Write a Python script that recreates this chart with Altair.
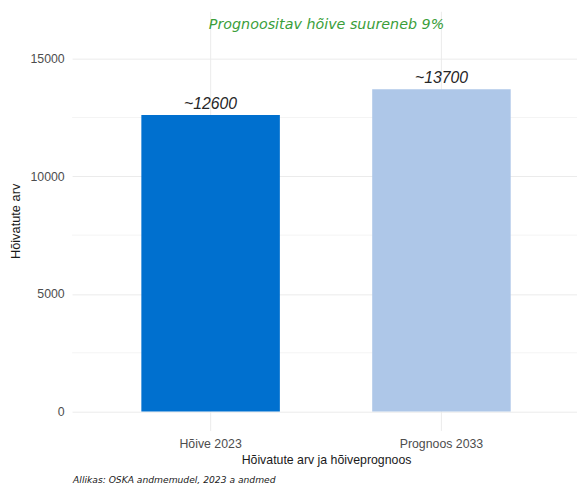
import altair as alt
import pandas as pd

categories = ["Hõive 2023", "Prognoos 2033"]
values = [12600, 13700]
value_labels = ["~12600", "~13700"]
bar_colors = ["#0070CF", "#AEC7E8"]
major_ticks = [0, 5000, 10000, 15000]
minor_ticks = [2500, 7500, 12500]
headline = "Prognoositav hõive suureneb 9%"
caption = "Allikas: OSKA andmemudel, 2023 a andmed"

df = pd.DataFrame({"kategooria": categories, "arv": values, "silt": value_labels})
minor_df = pd.DataFrame({"v": minor_ticks})

FONT = "Liberation Sans"
WIDE = "DejaVu Sans"
y_scale = alt.Scale(domain=[-800, 17011], nice=False, zero=False)
x_scale = alt.Scale(domain=categories, range=[0, 515], paddingInner=0.4, paddingOuter=0.3)

minor = alt.Chart(minor_df).mark_rule(color="#f4f4f4", strokeWidth=1).encode(
    y=alt.Y("v:Q", scale=y_scale)
)

bars = alt.Chart(df).mark_bar().encode(
    x=alt.X(
        "kategooria:N",
        scale=x_scale,
        sort=categories,
        axis=alt.Axis(
            title="Hõivatute arv ja hõiveprognoos",
            labelAngle=0,
            ticks=False,
            domain=False,
            grid=True,
            gridColor="#ebebeb",
            bandPosition=0.5,
            labelPadding=7,
            titlePadding=4,
            labelFontSize=12.5,
            titleFontSize=12.5,
            labelColor="#4d4d4d",
            titleColor="#1a1a1a",
            labelFont=FONT,
            titleFont=FONT,
            titleFontWeight="normal",
        ),
    ),
    y=alt.Y(
        "arv:Q",
        scale=y_scale,
        axis=alt.Axis(
            title="Hõivatute arv",
            values=major_ticks,
            format="d",
            ticks=False,
            domain=False,
            grid=True,
            gridColor="#ebebeb",
            labelPadding=8,
            titlePadding=8,
            labelFontSize=12.5,
            titleFontSize=13,
            labelColor="#4d4d4d",
            titleColor="#1a1a1a",
            labelFont=FONT,
            titleFont=FONT,
            titleFontWeight="normal",
        ),
    ),
    color=alt.Color("kategooria:N", scale=alt.Scale(domain=categories, range=bar_colors), legend=None),
)

texts = alt.Chart(df).mark_text(
    font=FONT, fontSize=16, fontStyle="italic", color="#262626", baseline="bottom", dy=-3
).encode(
    x=alt.X("kategooria:N", scale=x_scale, sort=categories),
    y=alt.Y("arv:Q", scale=y_scale),
    text="silt:N",
)

head = alt.Chart(pd.DataFrame({"t": [headline]})).mark_text(
    font=WIDE, fontSize=14.5, fontStyle="italic", color="#3a9e3a",
    align="center", baseline="middle"
).encode(x=alt.value(258), y=alt.value(14), text="t:N")

cap = alt.Chart(pd.DataFrame({"t": [caption]})).mark_text(
    font=WIDE, fontSize=9.3, fontStyle="italic", color="#1a1a1a",
    align="left", baseline="middle"
).encode(x=alt.value(1), y=alt.value(475), text="t:N")

chart = alt.layer(minor, bars, texts, head, cap).properties(
    width=512,
    height=425,
    autosize=alt.AutoSizeParams(type="none"),
    padding={"left": 65, "top": 0, "right": 0, "bottom": 55},
).configure(
    background="white",
    view=alt.ViewConfig(stroke=None),
)

chart.save("out.html", embed_options={"renderer": "svg", "actions": False})
